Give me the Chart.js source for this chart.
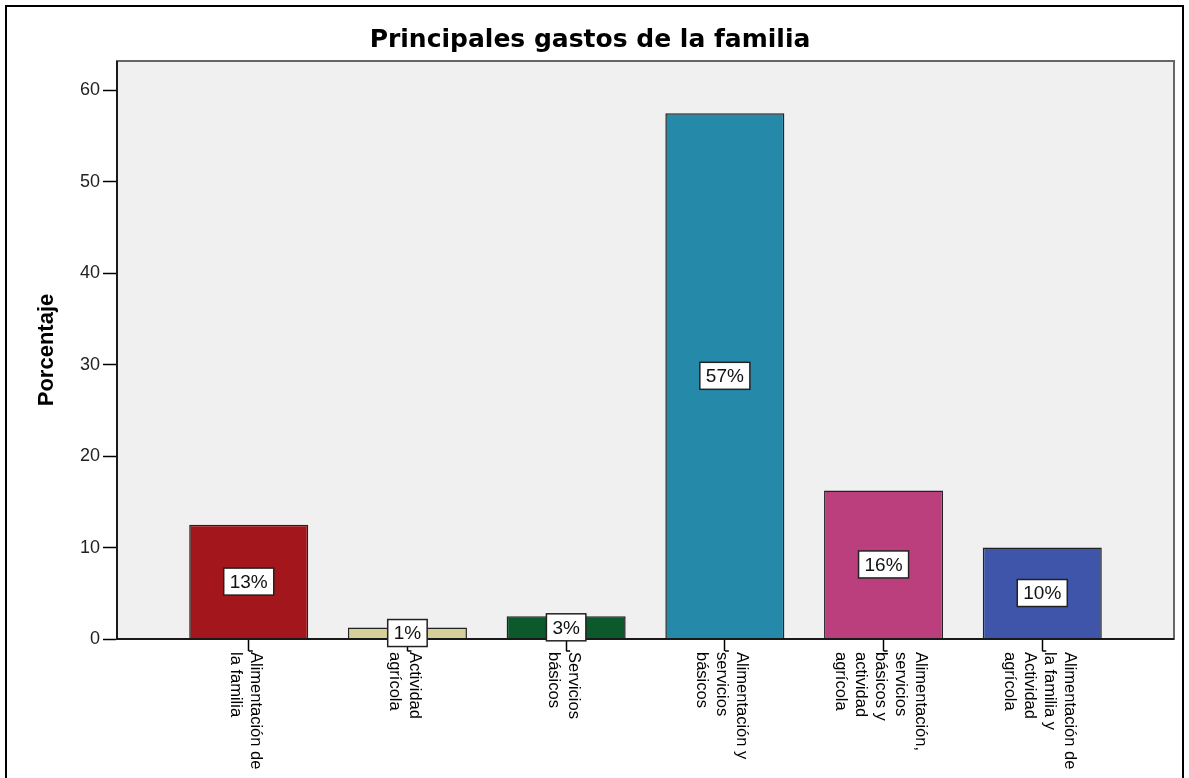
<!DOCTYPE html>
<html>
<head>
<meta charset="utf-8">
<script src="https://cdn.jsdelivr.net/npm/chart.js@4.4.1/dist/chart.umd.min.js"></script>
<style>
  body { margin: 0; background: #fff; }
  canvas { display: block; }
</style>
</head>
<body>
<canvas id="myChart" width="1189" height="778"></canvas>
<script>
const categorias = [
    ['Alimentación de', 'la familia'],
    ['Actividad', 'agrícola'],
    ['Servicios', 'básicos'],
    ['Alimentación y', 'servicios', 'básicos'],
    ['Alimentación,', 'servicios', 'básicos y', 'actividad', 'agrícola'],
    ['Alimentación de', 'la familia y', 'Actividad', 'agrícola']
];
const porcentajes = [12.5, 1.25, 2.5, 57.5, 16.25, 10];
const etiquetas = ['13%', '1%', '3%', '57%', '16%', '10%'];
const colores = ['#a3161b', '#d5cf99', '#0c5a2c', '#2589a9', '#bc3f7d', '#3e55aa'];

// fondo gris, marco y borde exterior
const marcoPlugin = {
    id: 'marco',
    beforeDraw: (chart) => {
        const { ctx, chartArea: a } = chart;
        ctx.save();
        ctx.strokeStyle = '#000';
        ctx.lineWidth = 2;
        ctx.strokeRect(6, 6, 1177, 820);
        ctx.fillStyle = '#f0f0f0';
        ctx.fillRect(a.left, a.top, a.right - a.left, a.bottom - a.top);
        ctx.restore();
    },
    afterDatasetsDraw: (chart) => {
        const { ctx, chartArea: a } = chart;
        ctx.save();
        ctx.strokeStyle = '#666';
        ctx.lineWidth = 2;
        ctx.strokeRect(a.left, a.top, a.right - a.left, a.bottom - a.top);
        ctx.strokeStyle = '#000';
        ctx.lineWidth = 1.5;
        ctx.beginPath();
        ctx.moveTo(a.left, a.top);
        ctx.lineTo(a.left, a.bottom);
        ctx.lineTo(a.right, a.bottom);
        ctx.stroke();
        ctx.restore();
    }
};

// etiquetas del eje x giradas y cajas de porcentaje
const textosPlugin = {
    id: 'textos',
    afterDraw: (chart) => {
        const { ctx, chartArea: a } = chart;
        const xs = chart.scales.x;
        ctx.save();
        ctx.fillStyle = '#000';
        ctx.strokeStyle = '#000';
        ctx.font = '16.5px "Liberation Sans", Arial, sans-serif';
        ctx.textAlign = 'left';
        ctx.textBaseline = 'middle';
        categorias.forEach((lineas, i) => {
            const x = xs.getPixelForValue(i);
            ctx.lineWidth = 1.5;
            ctx.beginPath();
            ctx.moveTo(x, a.bottom + 12);
            ctx.lineTo(x + 4, a.bottom + 12);
            ctx.stroke();
            ctx.save();
            ctx.translate(x, a.bottom + 13);
            ctx.rotate(Math.PI / 2);
            const n = lineas.length;
            lineas.forEach((t, j) => {
                ctx.fillText(t, 0, 3 - (n - 1) * 10 + j * 20);
            });
            ctx.restore();
        });

        const meta = chart.getDatasetMeta(0);
        ctx.font = '19px "Liberation Sans", Arial, sans-serif';
        ctx.textAlign = 'center';
        meta.data.forEach((bar, i) => {
            const cx = bar.x;
            const cy = (bar.y + bar.base) / 2;
            const w = ctx.measureText(etiquetas[i]).width + 12;
            const h = 27;
            ctx.fillStyle = '#fff';
            ctx.fillRect(cx - w / 2, cy - h / 2, w, h);
            ctx.lineWidth = 1.5;
            ctx.strokeStyle = '#222';
            ctx.strokeRect(cx - w / 2, cy - h / 2, w, h);
            ctx.fillStyle = '#111';
            ctx.fillText(etiquetas[i], cx, cy + 1);
        });
        ctx.restore();
    }
};

const barChart = new Chart(document.getElementById('myChart'), {
    type: 'bar',
    data: {
        datasets: [{
            data: porcentajes.map((v, i) => ({ x: i, y: v })),
            backgroundColor: colores,
            borderColor: '#222',
            borderWidth: 1.5,
            barPercentage: 0.75,
            categoryPercentage: 1
        }]
    },
    options: {
        responsive: false,
        animation: false,
        devicePixelRatio: 1,
        layout: { padding: { left: 6, right: 15, top: 0, bottom: 0 } },
        plugins: {
            legend: { display: false },
            tooltip: { enabled: false },
            title: {
                display: true,
                text: 'Principales gastos de la familia',
                color: '#000',
                font: { family: '"DejaVu Sans", sans-serif', size: 25, weight: 'bold' },
                padding: { top: 25, bottom: 6 }
            }
        },
        scales: {
            x: {
                type: 'linear',
                min: -0.83,
                max: 5.83,
                offset: false,
                afterBuildTicks: (s) => { s.ticks = categorias.map((c, i) => ({ value: i })) },
                afterFit: (s) => { s.height = 139 },
                ticks: { display: false },
                grid: { display: true, offset: false, drawOnChartArea: false, drawTicks: true, tickLength: 12, tickColor: '#000', tickWidth: 1.5 },
                border: { display: true, color: '#000', width: 1.5 }
            },
            y: {
                min: 0,
                max: 63.2,
                afterFit: (s) => { s.width = 111 },
                ticks: {
                    stepSize: 10,
                    includeBounds: false,
                    padding: 3,
                    color: '#222',
                    font: { family: '"Liberation Sans", Arial, sans-serif', size: 18 }
                },
                grid: { drawOnChartArea: false, drawTicks: true, tickLength: 14, tickColor: '#000', tickWidth: 1.5 },
                border: { display: true, color: '#000', width: 1.5 },
                title: {
                    display: true,
                    text: 'Porcentaje',
                    color: '#000',
                    padding: { top: 28, bottom: 0 },
                    font: { family: '"Liberation Sans", Arial, sans-serif', size: 22, weight: 'bold' }
                }
            }
        }
    },
    plugins: [marcoPlugin, textosPlugin]
});
</script>
</body>
</html>
